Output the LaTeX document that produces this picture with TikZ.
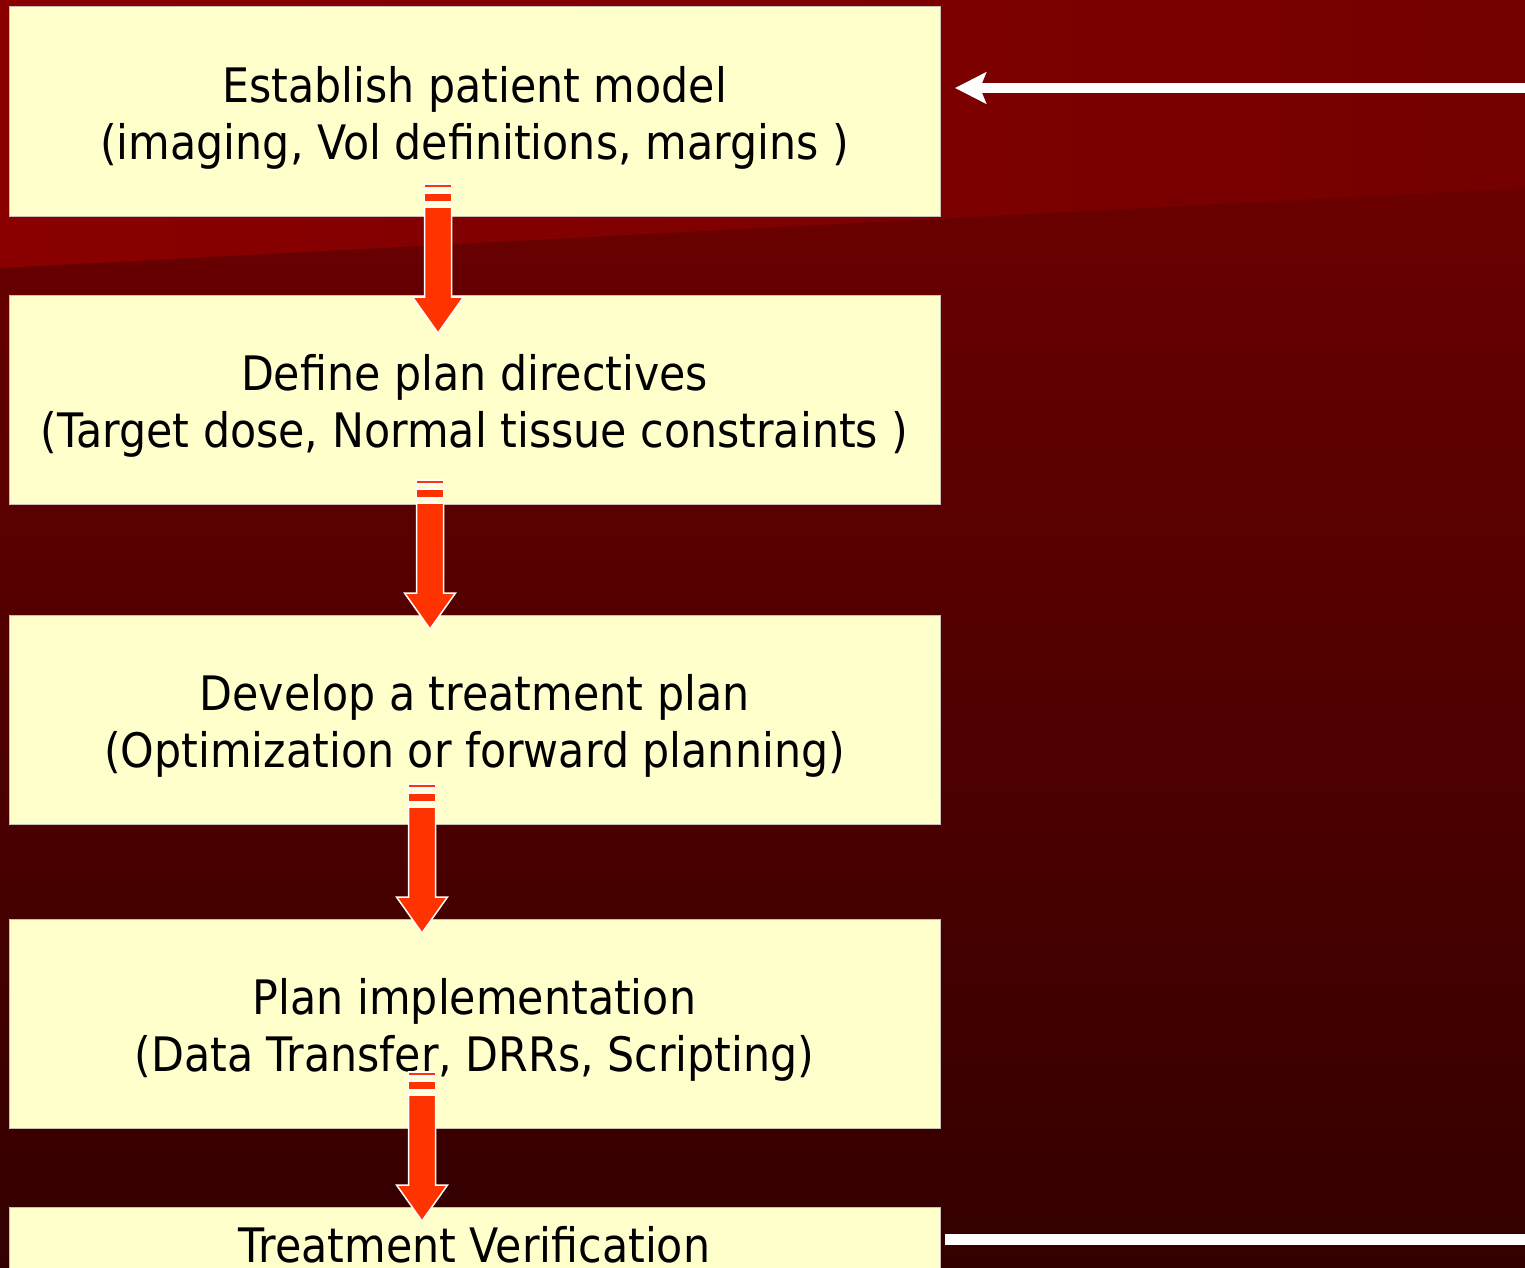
\documentclass[tikz,border=0pt]{standalone}
\usepackage{fontspec}
\setmainfont{DejaVu Sans}[FakeStretch=0.9]
\usetikzlibrary{arrows.meta}
\definecolor{boxfill}{HTML}{FFFFCC}
\definecolor{boxedge}{HTML}{C8C0B8}
\definecolor{arrowred}{HTML}{FF3300}
\definecolor{bgtop}{HTML}{740000}
\definecolor{bgbot}{HTML}{330000}
\definecolor{bandleft}{HTML}{8A0000}
\definecolor{bandright}{HTML}{740000}
\tikzset{
  stepbox/.style={draw=boxedge, line width=1pt, fill=boxfill, minimum width=931pt, inner sep=0pt},
  steptext/.style={inner sep=0pt, align=center, font=\fontsize{47.5}{57}\selectfont, text=black},
  feedback/.style={white, line width=10.5pt},
  pics/blockarrow/.style={code={
    \fill[arrowred, draw=white, line width=1.2pt] (-13.5,0) rectangle (13.5,4);
    \fill[arrowred, draw=white, line width=1.2pt] (-13.5,9) rectangle (13.5,18);
    \fill[arrowred, draw=white, line width=1.5pt] (-13.5,23) -- (13.5,23) -- (13.5,113) -- (25.5,113)
      -- (0,149) -- (-25.5,113) -- (-13.5,113) -- cycle;
  }}
}
\begin{document}
\begin{tikzpicture}[x=1pt, y=-1pt]
\useasboundingbox (0,0) rectangle (1525,1268);
\clip (0,0) rectangle (1525,1268);
% background
\shade[top color=bgtop, bottom color=bgbot] (0,0) rectangle (1525,1268);
\shade[left color=bandleft, right color=bandright] (0,0) -- (1525,0) -- (1525,188) -- (0,268) -- cycle;
% boxes
\node[stepbox, minimum height=209pt] (b1) at (474.5,111.5) {};
\node[stepbox, minimum height=209pt] (b2) at (474.5,399.5) {};
\node[stepbox, minimum height=209pt] (b3) at (474.5,719.5) {};
\node[stepbox, minimum height=209pt] (b4) at (474.5,1023.5) {};
\node[stepbox, minimum height=70pt] (b5) at (474.5,1242) {};
\node[steptext] (t1) at ([yshift=-6pt]b1.center) {Establish patient model\\(imaging, Vol definitions, margins )};
\node[steptext] (t2) at ([yshift=-6pt]b2.center) {Define plan directives\\(Target dose, Normal tissue constraints )};
\node[steptext] (t3) at ([yshift=-6pt]b3.center) {Develop a treatment plan\\(Optimization or forward planning)};
\node[steptext] (t4) at ([yshift=-6pt]b4.center) {Plan implementation\\(Data Transfer, DRRs, Scripting)};
\node[steptext] (t5) at ([yshift=-3pt]b5.center) {Treatment Verification};
% red block arrows
\pic at (438,184) {blockarrow};
\pic at (430,480) {blockarrow};
\pic at (422,784) {blockarrow};
\pic at (422,1072) {blockarrow};
% feedback loop
\coordinate (fbin) at (1530,88);
\coordinate (fbtip) at (955,88);
\coordinate (fbout) at (945,1239.5);
\coordinate (fbend) at (1530,1239.5);
\draw[feedback, -{Stealth[length=31pt, width=31pt, inset=6pt]}] (fbin) -- (fbtip);
\draw[feedback] (fbout) -- (fbend);
\end{tikzpicture}
\end{document}
